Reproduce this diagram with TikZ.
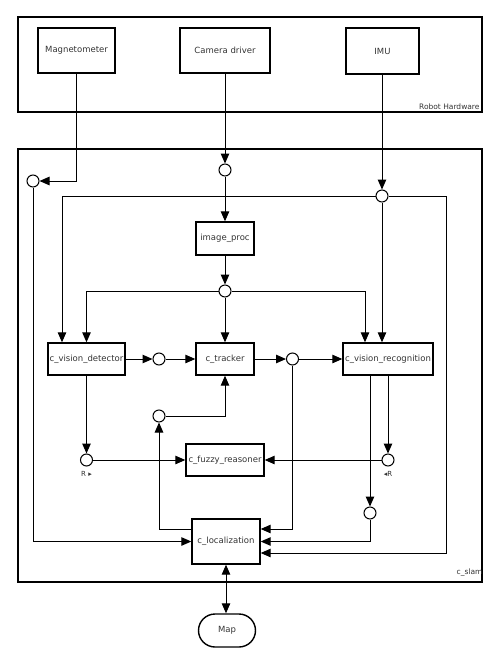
\documentclass[tikz,border=0pt]{standalone}
\usepackage{fontspec}
\setmainfont{DejaVu Sans}
\usetikzlibrary{arrows.meta,shapes.misc,calc}
\tikzset{
  box/.style={draw, line width=1.4pt, rectangle, inner sep=0pt, font=\fontsize{8.5}{10}\selectfont, text=black!80},
  frame/.style={draw, line width=1.4pt, rectangle, inner sep=0pt},
  port/.style={draw, line width=1pt, circle, fill=white, minimum size=12pt, inner sep=0pt},
  arr/.style={line width=1pt, -{Triangle[length=10pt,width=8.5pt]}},
  small/.style={font=\fontsize{7.5}{9}\selectfont, text=black!80, inner sep=1pt},
}
\begin{document}
\begin{tikzpicture}[x=1pt,y=-1pt]
\useasboundingbox (0,0) rectangle (500,665);
% frames
\node[frame, minimum width=464pt, minimum height=95pt] (hw) at (250,64.5) {};
\node[small, anchor=south east] at ($(hw.south east)+(-2,-2)$) {Robot Hardware};
\node[frame, minimum width=464pt, minimum height=433pt] (slam) at (250,365.5) {};
\node[small, anchor=south east] at ($(slam.south east)+(1,-5)$) {c\_slam};
% hardware boxes
\node[box, minimum width=77pt, minimum height=45pt] (mag) at (76.5,50.5) {Magnetometer};
\node[box, minimum width=90pt, minimum height=45pt] (cam) at (225,50.5) {Camera driver};
\node[box, minimum width=73pt, minimum height=46pt] (imu) at (382.5,51) {IMU};
% components
\node[box, minimum width=58pt, minimum height=33pt] (ip) at (225,238.5) {image\_proc};
\node[box, minimum width=77pt, minimum height=32pt] (det) at (86.5,359) {c\_vision\_detector};
\node[box, minimum width=58pt, minimum height=32pt] (trk) at (225,359) {c\_tracker};
\node[box, minimum width=90pt, minimum height=32pt] (rec) at (388,359) {c\_vision\_recognition};
\node[box, minimum width=78pt, minimum height=32pt] (fz) at (225,460) {c\_fuzzy\_reasoner};
\node[box, minimum width=68pt, minimum height=45pt] (loc) at (226,541.5) {c\_localization};
\node[box, rounded rectangle, minimum width=57pt, minimum height=33pt] (map) at (227,630.5) {Map};
% ports
\node[port] (cm) at (33,181) {};
\node[port] (cc) at (225,170) {};
\node[port] (ci) at (382,196) {};
\node[port] (cp) at (225,291) {};
\node[port] (c1) at (159,359) {};
\node[port] (c2) at (292.5,359) {};
\node[port] (c3) at (159,416) {};
\node[port] (cr1) at (86.5,460) {};
\node[port] (cr2) at (388,460) {};
\node[port] (c4) at (370,513) {};
\node[small, font=\fontsize{7}{8}\selectfont] at (86.5,473.5) {R ▸};
\node[small, font=\fontsize{7}{8}\selectfont] at (388,473.5) {◂R};
\coordinate (rc) at (446,553);
% connectors
\draw[arr] (mag.south) |- (cm.east);
\draw[arr] (cm.south) |- (loc.west);
\draw[arr] (cam.south -| cc) -- (cc.north);
\draw[arr] (cc.south) -- (ip.north);
\draw[arr] (ip.south) -- (cp.north);
\draw[arr] (cp.west) -| (det.north);
\draw[arr] (cp.south) -- (trk.north);
\draw[arr] (cp.east) -| ($(rec.north)+(-23,0)$);
\draw[arr] (imu.south -| ci) -- (ci.north);
\draw[arr] (ci.west) -| ($(det.north)+(-24.5,0)$);
\draw[arr] (ci.south) -- (ci |- rec.north);
\draw[arr] (ci.east) -| (rc) -- ($(loc.east)+(0,11.5)$);
\draw[arr] (det.east) -- (c1.west);
\draw[arr] (c1.east) -- (trk.west);
\draw[arr] (trk.east) -- (c2.west);
\draw[arr] (c2.east) -- (rec.west);
\draw[arr] (c2.south) |- ($(loc.east)+(0,-12.5)$);
\draw[arr] (c3.east) -| (trk.south);
\draw[arr] ($(loc.west)+(0,-12.5)$) -| (c3.south);
\draw[arr] (det.south) -- (cr1.north);
\draw[arr] (cr1.east) -- (fz.west);
\draw[arr] (rec.south) -- (cr2.north);
\draw[arr] (cr2.west) -- (fz.east);
\draw[arr] (c4 |- rec.south) -- (c4.north);
\draw[arr] (c4.south) |- (loc.east);
\draw[line width=1pt, {Triangle[length=10pt,width=8.5pt]}-{Triangle[length=10pt,width=8.5pt]}] (loc.south) -- (map.north -| loc.south);
\end{tikzpicture}
\end{document}
